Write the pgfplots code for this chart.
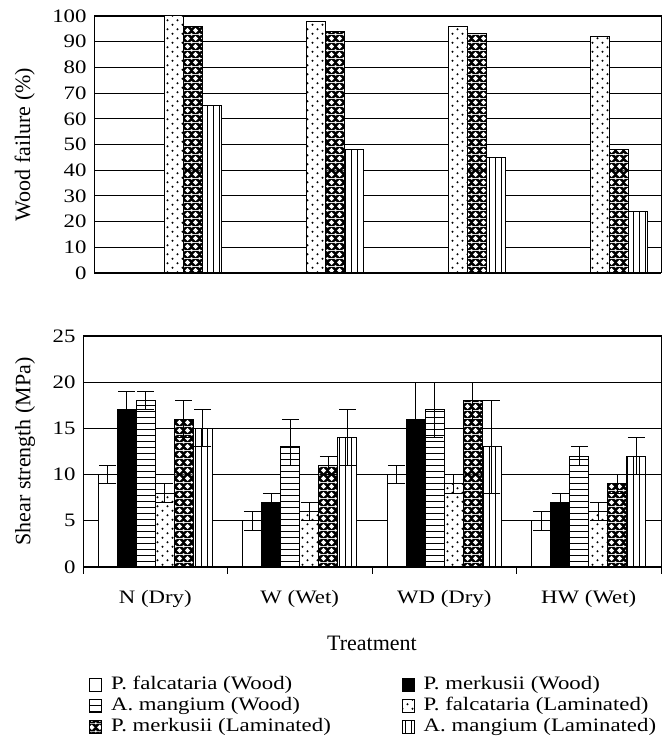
\documentclass[border=0pt]{standalone}
\usepackage{fontspec}
\setmainfont{Liberation Serif}
\usepackage{pgfplots}
\pgfplotsset{compat=1.18}
\usetikzlibrary{patterns}

% the scan is wider than it is tall: small text is stretched sideways
\newcommand\sx[1]{\scalebox{1.2}[1]{#1}}
\newcommand\smallfont{\fontsize{19}{21}\selectfont}

% sparse dots
\pgfdeclarepatternformonly{sdots}{\pgfqpoint{-1pt}{-1pt}}{\pgfqpoint{11pt}{10pt}}{\pgfqpoint{10pt}{9pt}}{%
  \pgfpathcircle{\pgfqpoint{2.5pt}{2.25pt}}{1.1pt}%
  \pgfpathcircle{\pgfqpoint{7.5pt}{6.75pt}}{1.1pt}%
  \pgfusepath{fill}}
% horizontal lines
\pgfdeclarepatternformonly{shlines}{\pgfqpoint{-1pt}{-1pt}}{\pgfqpoint{7pt}{7pt}}{\pgfqpoint{6pt}{6pt}}{%
  \pgfsetlinewidth{0.8pt}%
  \pgfpathmoveto{\pgfqpoint{-1pt}{3pt}}\pgfpathlineto{\pgfqpoint{7pt}{3pt}}%
  \pgfusepath{stroke}}
% vertical lines
\pgfdeclarepatternformonly{svlines}{\pgfqpoint{-1pt}{-1pt}}{\pgfqpoint{7pt}{7pt}}{\pgfqpoint{6pt}{6pt}}{%
  \pgfsetlinewidth{0.8pt}%
  \pgfpathmoveto{\pgfqpoint{3pt}{-1pt}}\pgfpathlineto{\pgfqpoint{3pt}{7pt}}%
  \pgfusepath{stroke}}
% white diamonds on black
\pgfdeclarepatterninherentlycolored{sdiam}{\pgfpointorigin}{\pgfqpoint{8pt}{8pt}}{\pgfqpoint{8pt}{8pt}}{%
  \pgfsetfillcolor{black}%
  \pgfpathrectangle{\pgfpointorigin}{\pgfqpoint{8pt}{8pt}}\pgfusepath{fill}%
  \pgfsetfillcolor{white}%
  \pgfpathmoveto{\pgfqpoint{4pt}{1.1pt}}\pgfpathlineto{\pgfqpoint{6.9pt}{4pt}}%
  \pgfpathlineto{\pgfqpoint{4pt}{6.9pt}}\pgfpathlineto{\pgfqpoint{1.1pt}{4pt}}\pgfpathclose
  \pgfpathcircle{\pgfqpoint{0pt}{0pt}}{0.8pt}\pgfpathcircle{\pgfqpoint{8pt}{0pt}}{0.8pt}%
  \pgfpathcircle{\pgfqpoint{0pt}{8pt}}{0.8pt}\pgfpathcircle{\pgfqpoint{8pt}{8pt}}{0.8pt}%
  \pgfusepath{fill}}

\pgfplotsset{
  woodbars/.style={
    scale only axis, anchor=south west,
    ybar, bar width=19pt,
    xmin=-0.5, xmax=3.5, ymin=0,
    axis line style={line width=1pt},
    ymajorgrids, grid style={line width=0.9pt, black},
    ytick style={draw=none},
    /pgf/number format/assume math mode=true,
    yticklabel={\sx{\pgfmathprintnumber{\tick}}},
    ticklabel style={font=\smallfont},
    every axis plot/.append style={draw=black, line width=1pt},
    error bars/error bar style={line width=1pt, black},
    error bars/error mark options={rotate=90, mark size=8.5pt, line width=1pt, black},
  },
  fwood/.style={fill=white},
  mwood/.style={fill=black},
  awood/.style={fill=white, postaction={pattern=shlines}},
  flam/.style={fill=white, postaction={pattern=sdots}},
  mlam/.style={pattern=sdiam},
  alam/.style={fill=white, postaction={pattern=svlines}},
}

\begin{document}
\fontsize{22}{25}\selectfont
\begin{tikzpicture}
\useasboundingbox (0,0) rectangle (669pt,738pt);

% wood failure
\begin{axis}[woodbars,
  at={(94pt,465pt)}, width=567pt, height=257pt,
  ymax=100, ytick={0,10,...,100}, xtick=\empty,
  ylabel={Wood failure (\%)},
  ylabel style={at={(axis description cs:-0.122,0.5)}, anchor=center},
]
\addplot[flam, bar shift=9.5pt] coordinates {(0,100) (1,98) (2,96) (3,92)};
\addplot[mlam, bar shift=28.5pt] coordinates {(0,96) (1,94) (2,93) (3,48)};
\addplot[alam, bar shift=47.5pt] coordinates {(0,65) (1,48) (2,45) (3,24)};
\end{axis}

% shear strength
\begin{axis}[woodbars,
  at={(83pt,171pt)}, width=578pt, height=231pt,
  ymax=25, ytick={0,5,...,25},
  xtick={0,1,2,3},
  xticklabels={\sx{N (Dry)}, \sx{W (Wet)}, \sx{WD (Dry)}, \sx{HW (Wet)}},
  minor xtick={-0.5,0.5,1.5,2.5,3.5}, xtick pos=lower,
  major tick length=0pt, minor tick length=7pt, tick align=outside,
  minor x tick style={line width=1pt, black},
  xticklabel style={yshift=-16pt},
  xlabel={Treatment},
  xlabel style={at={(axis description cs:0.5,-0.33)}, anchor=center},
  ylabel={Shear strength (MPa)},
  ylabel style={at={(axis description cs:-0.1,0.5)}, anchor=center},
  legend columns=2, legend cell align=left,
  legend image code/.code={\draw[#1, line width=0.9pt] (0pt,-6pt) rectangle (12pt,7pt);},
  legend style={at={(axis description cs:0.0104,-0.47)}, anchor=north west,
    draw=none, fill=none, inner sep=0pt, row sep=2.5pt, font=\smallfont,
    nodes={text height=13pt, text depth=3.5pt, inner sep=1pt, anchor=west},
    /tikz/every odd column/.append style={column sep=8pt},
    /tikz/every even column/.append style={column sep=70pt}},
]
\addplot[fwood, bar shift=-47.5pt, error bars/.cd, y dir=both, y explicit]
  table[x=x, y=y, y error plus=ep, y error minus=em] {
x y ep em
0 10 1 1
1 5 1 1
2 10 1 1
3 5 1 1
};
\addplot[mwood, bar shift=-28.5pt, error bars/.cd, y dir=both, y explicit]
  table[x=x, y=y, y error plus=ep, y error minus=em] {
x y ep em
0 17 2 2
1 7 1 1
2 16 4 4
3 7 1 1
};
\addplot[awood, bar shift=-9.5pt, error bars/.cd, y dir=both, y explicit]
  table[x=x, y=y, y error plus=ep, y error minus=em] {
x y ep em
0 18 1 1
1 13 3 2
2 17 3 3
3 12 1 1
};
\addplot[flam, bar shift=9.5pt, error bars/.cd, y dir=both, y explicit]
  table[x=x, y=y, y error plus=ep, y error minus=em] {
x y ep em
0 8 1 1
1 6 1 1
2 9 1 1
3 6 1 1
};
\addplot[mlam, bar shift=28.5pt, error bars/.cd, y dir=both, y explicit]
  table[x=x, y=y, y error plus=ep, y error minus=em] {
x y ep em
0 16 2 2
1 11 1 1
2 18 2 2
3 9 1 1
};
\addplot[alam, bar shift=47.5pt, error bars/.cd, y dir=both, y explicit]
  table[x=x, y=y, y error plus=ep, y error minus=em] {
x y ep em
0 15 2 2
1 14 3 3
2 13 5 5
3 12 2 2
};
\legend{\sx{P. falcataria (Wood)}, \sx{P. merkusii (Wood)}, \sx{A. mangium (Wood)},
  \sx{P. falcataria (Laminated)}, \sx{P. merkusii (Laminated)}, \sx{A. mangium (Laminated)}}
\end{axis}
\end{tikzpicture}
\end{document}
